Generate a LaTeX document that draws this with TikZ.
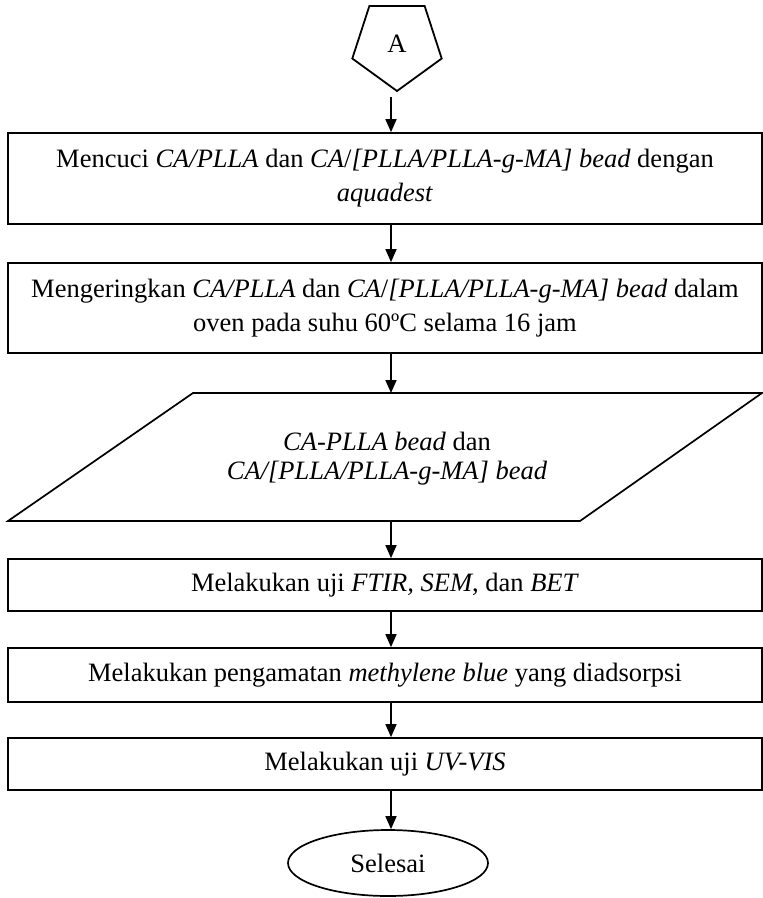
\documentclass[tikz,border=0pt]{standalone}
\usepackage{fontspec}
\setmainfont{Liberation Serif}
\usetikzlibrary{arrows.meta,shapes.geometric}

\tikzset{
	kotak/.style={draw, line width=1.7pt, minimum width=754pt, inner sep=0pt, align=center, font=\fontsize{26.5}{34}\selectfont},
	panah/.style={line width=1.6pt, -{Triangle[length=13pt,width=11pt]}},
}

\begin{document}
\begin{tikzpicture}[x=1pt,y=-1pt]
	%%%%% START %%%%%
	
	\useasboundingbox (0,0) rectangle (763,898);
	\coordinate (jalur) at (391,0);
	
	\node[draw, line width=1.8pt, regular polygon, regular polygon sides=5, shape border rotate=180, minimum size=94pt, inner sep=0pt, font=\fontsize{26.5}{34}\selectfont] (mulai) at (397,44) {A};
	
	\node[kotak, minimum height=91pt] (cuci) at (385,178.5) {Mencuci \textit{CA/PLLA} dan \textit{CA}/\textit{[PLLA/PLLA-g-MA] bead} dengan\\ \textit{aquadest}};
	\node[kotak, minimum height=90pt] (kering) at (385,308) {Mengeringkan \textit{CA/PLLA} dan \textit{CA}/\textit{[PLLA/PLLA-g-MA] bead} dalam\\ oven pada suhu 60ºC selama 16 jam};
	
	\coordinate (jtop) at (391,393);
	\coordinate (jbot) at (391,521);
	\draw[line width=1.7pt] (193,393) -- (762,393) -- (580,521) -- (8,521) -- cycle;
	\node[align=center, inner sep=0pt, font=\fontsize{26.5}{29}\selectfont] (hasil) at (387,459) {\textit{CA-PLLA bead} dan\\ \textit{CA/[PLLA/PLLA-g-MA] bead}};
	
	\node[kotak, minimum height=52pt] (uji) at (385,585) {Melakukan uji \textit{FTIR, SEM}, dan \textit{BET}};
	\node[kotak, minimum height=54pt] (amati) at (385,675) {Melakukan pengamatan \textit{methylene blue} yang diadsorpsi};
	\node[kotak, minimum height=52pt] (uv) at (385,764) {Melakukan uji \textit{UV-VIS}};
	
	\node[draw, ellipse, line width=1.7pt, minimum width=200pt, minimum height=66pt, inner sep=0pt, font=\fontsize{26.5}{34}\selectfont] (selesai) at (388,863) {Selesai};
	
	\draw[panah, shorten <=5pt] (mulai.south -| jalur) -- (cuci.north -| jalur);
	\draw[panah] (cuci.south -| jalur) -- (kering.north -| jalur);
	\draw[panah] (kering.south -| jalur) -- (jtop);
	\draw[panah] (jbot) -- (uji.north -| jalur);
	\draw[panah] (uji.south -| jalur) -- (amati.north -| jalur);
	\draw[panah] (amati.south -| jalur) -- (uv.north -| jalur);
	\draw[panah] (uv.south -| jalur) -- (selesai.north -| jalur);
	
	%%%%% END %%%%%
\end{tikzpicture}
\end{document}
